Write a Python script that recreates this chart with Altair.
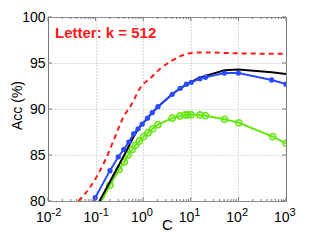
import altair as alt
import pandas as pd

# ---- data ----
red_C = [0.025, 0.044, 0.079, 0.158, 0.24, 0.39, 0.54, 0.95, 1.32, 2.3, 3.7, 6.0, 10.7, 19, 95, 1000]
red_acc = [78.5, 80.0, 81.6, 84.4, 86.6, 89.2, 90.3, 92.6, 93.2, 94.4, 95.15, 95.75, 96.1, 96.15, 96.05, 96.0]

black_C = [0.1, 0.2, 0.4, 0.63, 0.78, 0.95, 1.23, 1.55, 2.04, 4.07, 6.0, 10.2, 15.5, 20.4, 51, 100, 500, 1000]
black_acc = [79.2, 82.1, 85.0, 87.0, 87.85, 88.35, 89.0, 89.6, 90.25, 91.6, 92.25, 92.95, 93.4, 93.6, 94.2, 94.3, 94.0, 93.8]

blue_C = [0.05, 0.098, 0.2, 0.3, 0.39, 0.5, 0.63, 0.78, 0.95, 1.23, 1.55, 2.04, 4.07, 6.0, 8.1, 10.2, 15.5, 20.4, 51, 100, 500, 1000]
blue_acc = [77.6, 80.36, 83.3, 84.8, 85.6, 86.4, 87.3, 87.85, 88.35, 89.0, 89.6, 90.25, 91.6, 92.25, 92.7, 92.9, 93.3, 93.45, 93.9, 93.9, 93.15, 92.7]

green_C = [0.1, 0.2, 0.31, 0.4, 0.48, 0.59, 0.69, 0.83, 1.02, 1.26, 1.58, 2.04, 4.07, 5.9, 7.6, 8.7, 10.2, 15.5, 20.4, 51, 102, 525, 1000]
green_acc = [78.8, 81.7, 83.4, 84.25, 85.0, 85.6, 86.05, 86.5, 87.0, 87.4, 87.85, 88.3, 89.0, 89.24, 89.35, 89.37, 89.37, 89.35, 89.27, 88.88, 88.5, 87.0, 86.27]

x_exponents = [-2, -1, 0, 1, 2, 3]
y_ticks = [80, 85, 90, 95, 100]
annotation = "Letter: k = 512"

W, H = 238, 184
FONT = "Liberation Sans"
AX = "#777777"

x_major = [10.0 ** e for e in x_exponents]
x_minor = [m * 10.0 ** e for e in x_exponents[:-1] for m in range(2, 10)]

xs = alt.Scale(type="log", domain=[0.01, 1000])
ys = alt.Scale(domain=[80, 100])

def series(C, acc):
    return pd.DataFrame({"C": C, "acc": acc})

x_enc = alt.X("C:Q", scale=xs, axis=alt.Axis(values=x_major[1:-1], grid=True, labels=False,
                                               ticks=False, domain=False, title="C",
                                               titleFont=FONT, titleFontSize=15, titleFontWeight="normal",
                                               titleColor="black", titleY=28, titleBaseline="alphabetic",
                                               gridColor="#b8b8b8", gridDash=[1, 2], gridWidth=1))
y_enc = alt.Y("acc:Q", scale=ys, axis=alt.Axis(values=y_ticks, grid=True, ticks=False, domain=False,
                                                 labelFont=FONT, labelFontSize=14, labelColor="black",
                                                 labelPadding=3, title="Acc (%)", titleFont=FONT,
                                                 titleFontSize=14, titleFontWeight="normal", titleColor="black",
                                                 titleX=-27, titleY=88, titleBaseline="alphabetic",
                                                 gridColor="#b8b8b8", gridDash=[1, 2], gridWidth=1))

base_grid = alt.Chart(series(red_C, red_acc)).mark_line(opacity=0).encode(x=x_enc, y=y_enc)

red = alt.Chart(series(red_C, red_acc)).mark_line(color="#ff1a1a", strokeWidth=2, strokeDash=[5, 4],
                                                 clip=True, interpolate="monotone").encode(
    x=alt.X("C:Q", scale=xs), y=alt.Y("acc:Q", scale=ys))

green_df = series(green_C, green_acc)
green_line = alt.Chart(green_df).mark_line(color="#66e60f", strokeWidth=2, clip=True).encode(
    x=alt.X("C:Q", scale=xs), y=alt.Y("acc:Q", scale=ys))
green_pts = alt.Chart(green_df).mark_point(color="#66e60f", size=38, strokeWidth=1.6, filled=False,
                                          clip=True, opacity=1).encode(
    x=alt.X("C:Q", scale=xs), y=alt.Y("acc:Q", scale=ys))

black = alt.Chart(series(black_C, black_acc)).mark_line(color="black", strokeWidth=2, clip=True).encode(
    x=alt.X("C:Q", scale=xs), y=alt.Y("acc:Q", scale=ys))

blue_df = series(blue_C, blue_acc)
blue_line = alt.Chart(blue_df).mark_line(color="#2b4bff", strokeWidth=2, clip=True).encode(
    x=alt.X("C:Q", scale=xs), y=alt.Y("acc:Q", scale=ys))
blue_pts = alt.Chart(blue_df).mark_circle(color="#2b4bff", size=28, opacity=1, clip=True).encode(
    x=alt.X("C:Q", scale=xs), y=alt.Y("acc:Q", scale=ys))

# inward ticks (MATLAB style)
def xticks(vals, length):
    d = pd.DataFrame({"C": vals})
    bottom = alt.Chart(d).mark_rule(color=AX, strokeWidth=1).encode(
        x=alt.X("C:Q", scale=xs), y=alt.value(H), y2=alt.value(H - length))
    top = alt.Chart(d).mark_rule(color=AX, strokeWidth=1).encode(
        x=alt.X("C:Q", scale=xs), y=alt.value(0), y2=alt.value(length))
    return bottom + top

def yticks(vals, length):
    d = pd.DataFrame({"acc": vals})
    left = alt.Chart(d).mark_rule(color=AX, strokeWidth=1).encode(
        y=alt.Y("acc:Q", scale=ys), x=alt.value(0), x2=alt.value(length))
    right = alt.Chart(d).mark_rule(color=AX, strokeWidth=1).encode(
        y=alt.Y("acc:Q", scale=ys), x=alt.value(W), x2=alt.value(W - length))
    return left + right

# x tick labels as 10 with superscript exponent
lab_df = pd.DataFrame({"C": x_major, "base": ["10"] * len(x_major),
                       "exp": [str(e) for e in x_exponents]})
lab_base = alt.Chart(lab_df).mark_text(font=FONT, fontSize=14, align="right", baseline="alphabetic",
                                       dx=3.5, color="black").encode(
    x=alt.X("C:Q", scale=xs), y=alt.value(H + 21), text="base:N")
lab_exp = alt.Chart(lab_df).mark_text(font=FONT, fontSize=11, align="left", baseline="alphabetic",
                                      dx=3.5, color="black").encode(
    x=alt.X("C:Q", scale=xs), y=alt.value(H + 15), text="exp:N")

note = alt.Chart(pd.DataFrame({"t": [annotation]})).mark_text(
    font=FONT, fontSize=15, fontWeight="bold", color="#ff1a1a", align="left", baseline="alphabetic").encode(
    x=alt.value(7), y=alt.value(21), text="t:N")

chart = alt.layer(
    base_grid, red, green_line, green_pts, black, blue_line, blue_pts,
    xticks(x_minor, 2), xticks(x_major, 4), yticks(y_ticks, 4),
    lab_base, lab_exp, note
).properties(
    width=W, height=H,
    autosize=alt.AutoSizeParams(type="none"),
    padding={"left": 40, "top": 9, "right": 25, "bottom": 31},
    background="white",
).configure_view(stroke=AX, strokeWidth=1)

chart.save("out.html", embed_options={"renderer": "svg", "actions": False})
